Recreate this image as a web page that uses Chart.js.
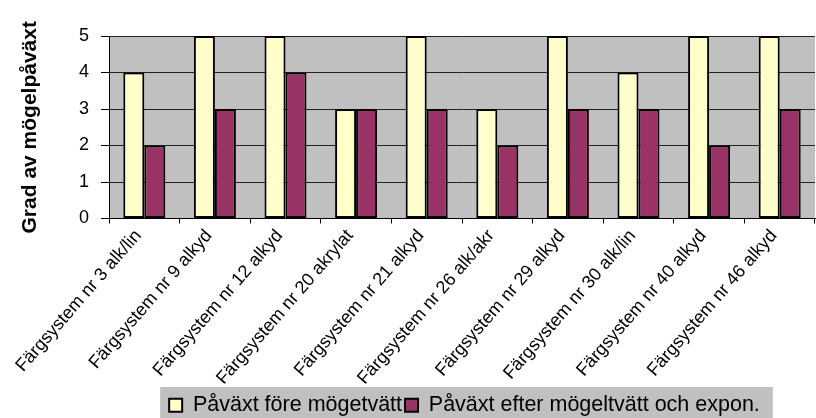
<!DOCTYPE html>
<html>
<head>
<meta charset="utf-8">
<script src="https://cdn.jsdelivr.net/npm/chart.js@4"></script>
<style>
html,body{margin:0;padding:0;background:#fff;}
#wrap{width:816px;height:418px;}
</style>
</head>
<body>
<div id="wrap"><canvas id="c" width="816" height="418"></canvas></div>
<script>
const categories = [
  "Färgsystem nr 3 alk/lin",
  "Färgsystem nr 9 alkyd",
  "Färgsystem nr 12 alkyd",
  "Färgsystem nr 20 akrylat",
  "Färgsystem nr 21 alkyd",
  "Färgsystem nr 26 alk/akr",
  "Färgsystem nr 29 alkyd",
  "Färgsystem nr 30 alk/lin",
  "Färgsystem nr 40 alkyd",
  "Färgsystem nr 46 alkyd"
];
const seriesNames = ["Påväxt före mögetvätt", "Påväxt efter mögeltvätt och expon."];
const beforeValues = [4, 5, 5, 3, 5, 3, 5, 4, 5, 5];
const afterValues  = [2, 3, 4, 3, 3, 2, 3, 3, 2, 3];
const yAxisTitle = "Grad av mögelpåväxt";
const yMin = 0, yMax = 5, yStep = 1;

const FONT = "'Liberation Sans', Arial, sans-serif";
const LEGEND_PAD = 3;

const bgPlugin = {
  id: 'bgPlugin',
  afterLayout(chart) {
    const lg = chart.legend;
    if (lg) {
      lg.top += 8; lg.bottom += 8;
      lg.left += 57; lg.right += 57;
    }
  },
  beforeDraw(chart) {
    const {ctx, chartArea: a} = chart;
    ctx.save();
    ctx.fillStyle = '#C0C0C0';
    ctx.fillRect(a.left, a.top, a.right - a.left, a.bottom - a.top);
    const lg = chart.legend;
    if (lg && lg.lineWidths && lg.lineWidths.length) {
      const lw = lg.lineWidths[0];
      const start = (lg.left + LEGEND_PAD + lg.right - lw) / 2;
      const end = start + lw - LEGEND_PAD;
      ctx.fillRect(start - 9, 387, (end + 13) - (start - 9), 418 - 387);
    }
    ctx.restore();
  }
};

new Chart(document.getElementById('c'), {
  type: 'bar',
  data: {
    labels: categories,
    datasets: [
      {
        label: seriesNames[0],
        data: beforeValues,
        backgroundColor: '#FFFFCC',
        borderColor: '#000000',
        borderWidth: 2,
        borderSkipped: false
      },
      {
        label: seriesNames[1],
        data: afterValues,
        backgroundColor: '#993366',
        borderColor: '#000000',
        borderWidth: 2,
        borderSkipped: false
      }
    ]
  },
  options: {
    responsive: false,
    animation: false,
    devicePixelRatio: 1,
    layout: { padding: { top: 36, right: 1, left: 0, bottom: 0 } },
    datasets: { bar: { categoryPercentage: 0.595, barPercentage: 1.0 } },
    plugins: {
      tooltip: { enabled: false },
      legend: {
        position: 'bottom',
        labels: {
          color: '#000',
          font: { family: FONT, size: 21.5 },
          boxWidth: 13,
          boxHeight: 13,
          padding: LEGEND_PAD
        }
      }
    },
    scales: {
      x: {
        grid: {
          display: true,
          drawOnChartArea: false,
          drawTicks: true,
          tickLength: 5,
          color: '#000',
          offset: true
        },
        border: { color: '#000', width: 1 },
        ticks: {
          color: '#000',
          font: { family: FONT, size: 18 },
          minRotation: 49,
          maxRotation: 49,
          autoSkip: false,
          padding: 2,
          labelOffset: -6
        },
        afterFit(scale) { scale.height = 165; }
      },
      y: {
        min: yMin,
        max: yMax,
        grid: {
          color: '#222',
          lineWidth: 1,
          drawTicks: true,
          tickLength: 8,
          tickColor: '#000'
        },
        border: { color: '#000', width: 1 },
        ticks: {
          stepSize: yStep,
          color: '#000',
          font: { family: FONT, size: 18 },
          padding: 12
        },
        title: {
          display: true,
          text: yAxisTitle,
          color: '#000',
          font: { family: FONT, size: 21, weight: 'bold' },
          padding: { top: 18, bottom: 0 }
        },
        afterFit(scale) { scale.width = 109; }
      }
    }
  },
  plugins: [bgPlugin]
});
</script>
</body>
</html>
